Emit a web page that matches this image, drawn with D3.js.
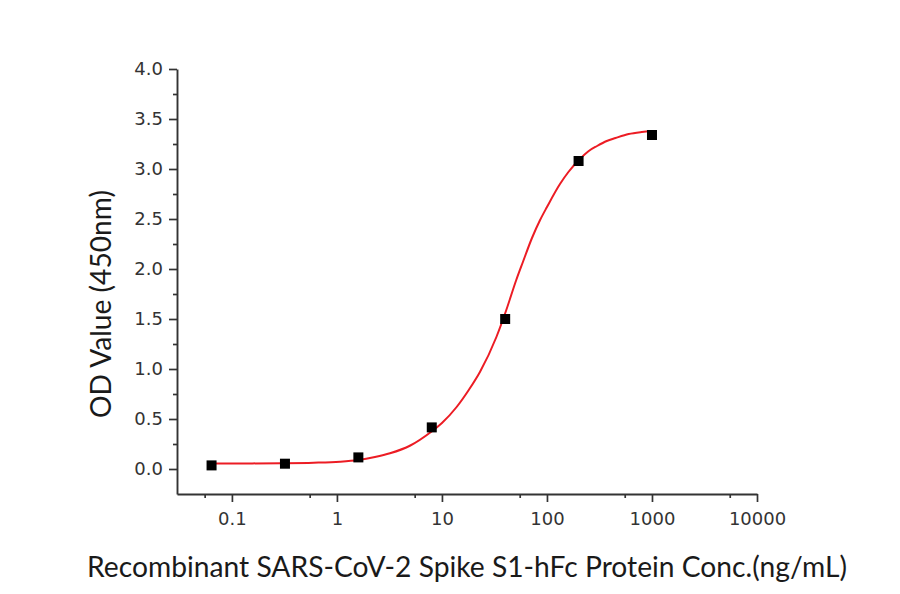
<!DOCTYPE html>
<html>
<head>
<meta charset="utf-8">
<script src="https://cdn.jsdelivr.net/npm/d3@7"></script>
<style>
  body { margin: 0; background: #fff; }
</style>
</head>
<body>
<svg></svg>
<script>
// measured points (ng/mL, OD450)
var conc = [0.064, 0.32, 1.6, 8, 40, 200, 1000];
var od = [0.036, 0.053, 0.116, 0.416, 1.50, 3.08, 3.34];

// fitted curve
var fitX = [0.064, 0.15, 0.3, 0.6, 1.07, 1.6, 2.3, 3.2, 5, 7.85, 10, 13.8, 18, 23, 33, 41, 51, 59, 72, 86, 100, 133, 160, 206, 250, 300, 371, 450, 600, 800, 1000];
var fitY = [0.055, 0.056, 0.058, 0.063, 0.073, 0.09, 0.12, 0.157, 0.235, 0.37, 0.46, 0.62, 0.79, 0.97, 1.32, 1.59, 1.89, 2.07, 2.31, 2.49, 2.62, 2.85, 2.97, 3.10, 3.18, 3.23, 3.28, 3.31, 3.35, 3.37, 3.38];

var xTicks = [0.1, 1, 10, 100, 1000, 10000];
var xTickLabels = ["0.1", "1", "10", "100", "1000", "10000"];
var xMinor = [0.055, 0.55, 5.5, 55, 550, 5500];
var yTicks = [0, 0.5, 1, 1.5, 2, 2.5, 3, 3.5, 4];
var yMinor = [0.25, 0.75, 1.25, 1.75, 2.25, 2.75, 3.25, 3.75];

var svg = d3.select("svg")
    .attr("width", 900)
    .attr("height", 594);

var plotLeft = 177, plotRight = 757, plotTop = 69, plotBottom = 494;

var xScale = d3.scaleLog().domain([0.03, 10000]).range([plotLeft, plotRight]),
    yScale = d3.scaleLinear().domain([-0.25, 4.0]).range([plotBottom, plotTop]);

var axisColor = "#333";

// minor ticks
svg.append("g")
    .attr("transform", "translate(0," + plotBottom + ")")
    .call(d3.axisBottom(xScale).tickValues(xMinor).tickSize(4).tickSizeOuter(0).tickFormat(""))
    .call(function(g){ g.select(".domain").remove(); });

svg.append("g")
    .attr("transform", "translate(" + plotLeft + ",0)")
    .call(d3.axisLeft(yScale).tickValues(yMinor).tickSize(4).tickSizeOuter(0).tickFormat(""))
    .call(function(g){ g.select(".domain").remove(); });

// major ticks + axis lines
svg.append("g")
    .attr("transform", "translate(0," + plotBottom + ")")
    .call(d3.axisBottom(xScale).tickValues(xTicks).tickSize(8).tickSizeOuter(0).tickPadding(10)
        .tickFormat(function(d, i){ return xTickLabels[i]; }));

svg.append("g")
    .attr("transform", "translate(" + plotLeft + ",0)")
    .call(d3.axisLeft(yScale).tickValues(yTicks).tickSize(8).tickSizeOuter(0).tickPadding(6)
        .tickFormat(d3.format(".1f")));

svg.selectAll(".tick line").attr("stroke", axisColor).attr("stroke-width", 1.7);
svg.selectAll(".domain").attr("stroke", axisColor).attr("stroke-width", 1.9);
svg.selectAll(".tick text")
    .style("font-family", "DejaVu Sans")
    .style("font-size", "18px")
    .attr("fill", "#333");

// fit line
var fit = fitX.map(function(d, i){ return [d, fitY[i]]; });
var line = d3.line()
    .x(function(d) { return xScale(d[0]); })
    .y(function(d) { return yScale(d[1]); })
    .curve(d3.curveMonotoneX);

svg.append("path")
    .datum(fit)
    .attr("d", line)
    .style("fill", "none")
    .style("stroke", "#ec1c24")
    .style("stroke-width", 2);

// data points
var s = 10;
svg.append("g")
    .selectAll("rect")
    .data(conc)
    .enter()
    .append("rect")
    .attr("x", function(d) { return xScale(d) - s/2; })
    .attr("y", function(d, i) { return yScale(od[i]) - s/2; })
    .attr("width", s)
    .attr("height", s)
    .style("fill", "#000");

// axis titles, sized to the span they take in the picture
function fitText(t, w) {
    var len = t.node().getComputedTextLength();
    var fs = parseFloat(t.style("font-size"));
    t.style("font-size", (fs * w / len) + "px");
}

var xTitle = svg.append("text")
    .attr("x", 467)
    .attr("y", 577)
    .attr("text-anchor", "middle")
    .style("font-family", "Lato")
    .style("font-size", "23px")
    .attr("fill", "#1a1a1a")
    .text("Recombinant SARS-CoV-2 Spike S1-hFc Protein Conc.(ng/mL)");
fitText(xTitle, 760);

var yTitle = svg.append("text")
    .attr("text-anchor", "middle")
    .attr("transform", "translate(111,304)rotate(-90)")
    .style("font-family", "Lato")
    .style("font-size", "26px")
    .attr("fill", "#1a1a1a")
    .text("OD Value (450nm)");
fitText(yTitle, 228);
</script>
</body>
</html>
